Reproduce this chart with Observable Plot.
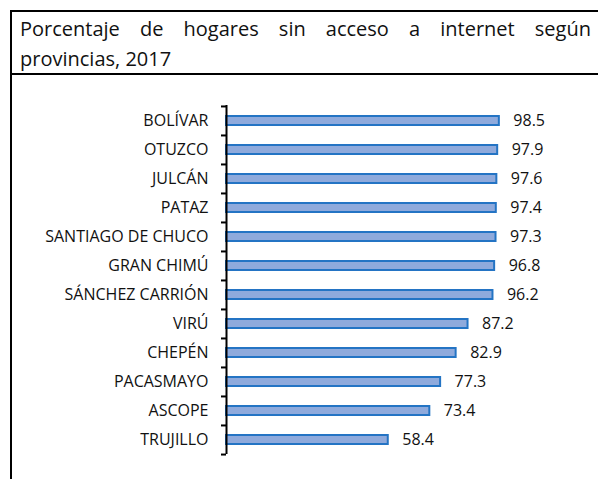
<!DOCTYPE html>
<html>
<head>
<meta charset="utf-8">
<script src="https://cdn.jsdelivr.net/npm/d3@7"></script>
<script src="https://cdn.jsdelivr.net/npm/@observablehq/plot@0.6"></script>
<style>
  html, body { margin: 0; padding: 0; background: #fff; }
  #page { position: relative; width: 598px; height: 479px; overflow: hidden; font-family: "Open Sans", sans-serif; color: #111; }
  #frame { position: absolute; left: 10px; top: 10px; width: 700px; height: 600px; border-left: 2px solid #000; border-top: 2px solid #000; }
  #sep { position: absolute; left: 10px; top: 73px; width: 700px; height: 0; border-top: 2px solid #000; }
  #title { position: absolute; left: 20px; top: 14px; width: 571px; font-size: 20px; line-height: 30px; }
  #title .l1 { text-align: justify; text-align-last: justify; white-space: nowrap; }
  #chart { position: absolute; left: 0; top: 76px; }
</style>
</head>
<body>
<div id="page">
  <div id="frame"></div>
  <div id="sep"></div>
  <div id="title"><div class="l1">Porcentaje de hogares sin acceso a internet según</div><div>provincias, 2017</div></div>
  <div id="chart"></div>
</div>
<script>
const provincias = ["BOLÍVAR", "OTUZCO", "JULCÁN", "PATAZ", "SANTIAGO DE CHUCO", "GRAN CHIMÚ", "SÁNCHEZ CARRIÓN", "VIRÚ", "CHEPÉN", "PACASMAYO", "ASCOPE", "TRUJILLO"];
const valores = [98.5, 97.9, 97.6, 97.4, 97.3, 96.8, 96.2, 87.2, 82.9, 77.3, 73.4, 58.4];
const data = provincias.map((p, i) => ({provincia: p, valor: valores[i]}));

const W = 598, H = 403, mt = 29, mb = 25;
const step = (H - mt - mb) / provincias.length;

const chart = Plot.plot({
  width: W,
  height: H,
  marginTop: mt,
  marginBottom: mb,
  marginLeft: 226,
  marginRight: 95,
  style: {background: "transparent", fontFamily: "Open Sans, sans-serif", fontSize: "16px", color: "#111"},
  x: {domain: [0, 100], axis: null},
  y: {domain: provincias, padding: 0, label: null},
  marks: [
    Plot.barX(data, {x: "valor", y: "provincia", fill: "#8FAADC", stroke: "#2474C4", strokeWidth: 2, insetTop: 10, insetBottom: 10}),
    Plot.ruleX([0], {stroke: "#000", strokeWidth: 2}),
    Plot.ruleY(provincias, {y: d => d, x1: 0, x2: 0, insetLeft: -5, dy: -step / 2, stroke: "#000", strokeWidth: 2}),
    Plot.ruleY(provincias.slice(-1), {y: d => d, x1: 0, x2: 0, insetLeft: -5, dy: step / 2, stroke: "#000", strokeWidth: 2}),
    Plot.axisY({tickSize: 0, tickPadding: 18, fontSize: 16, fill: "#111", label: null}),
    Plot.text(data, {x: "valor", y: "provincia", text: d => d.valor.toFixed(1), dx: 14, textAnchor: "start", fontSize: 16, fill: "#111"})
  ]
});
document.getElementById("chart").appendChild(chart);
</script>
</body>
</html>
